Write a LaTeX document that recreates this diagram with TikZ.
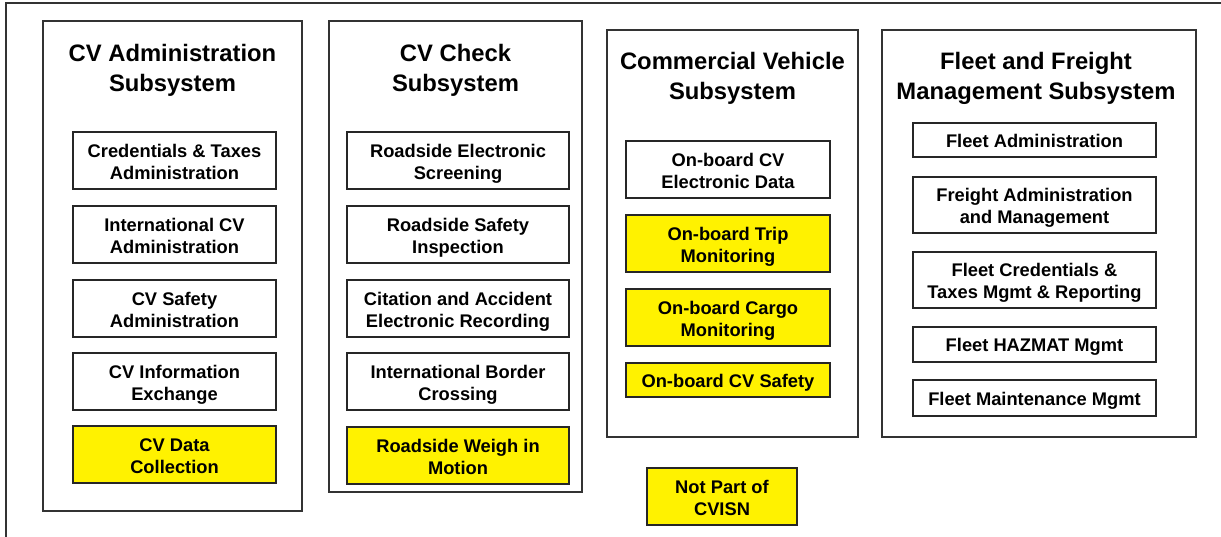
\documentclass[tikz,border=0pt]{standalone}
\usepackage{fontspec}
\setmainfont{Liberation Sans}
\begin{document}
\begin{tikzpicture}[x=1pt,y=-1pt,
  frameline/.style={line width=1.3pt,draw=black!80},
  subsys/.style={draw=black!80,line width=1.2pt,fill=white,inner sep=0pt,outer sep=0pt,anchor=north west},
  title/.style={align=center,font=\bfseries\fontsize{23.8}{30}\selectfont,inner sep=0pt},
  comp/.style={draw=black!85,line width=1.2pt,fill=white,inner sep=0pt,outer sep=0pt,align=center,
    font=\bfseries\fontsize{18.3}{22}\selectfont},
  yel/.style={comp,fill=yellow},
  twol/.style={text height=37.4pt,text depth=0pt},
  onel/.style={text height=15.5pt,text depth=0.5pt}]
\useasboundingbox (0,0) rectangle (1221,537);
\coordinate (fbl) at (6,540);
\coordinate (ftl) at (6,3);
\coordinate (ftr) at (1224,3);
\draw[frameline] (fbl) -- (ftl) -- (ftr);

% CV Administration Subsystem
\node[subsys,minimum width=259pt,minimum height=490pt] (s1) at (43,21) {};
\node[title] (t1) at (172.5,70) {CV Administration\\Subsystem};
\node[comp,twol,minimum width=203pt,minimum height=57pt] (a1) at (174.5,160.5) {Credentials \& Taxes\\Administration};
\node[comp,twol,minimum width=203pt,minimum height=57pt] (a2) at (174.5,234.5) {International CV\\Administration};
\node[comp,twol,minimum width=203pt,minimum height=57pt] (a3) at (174.5,308.5) {CV Safety\\Administration};
\node[comp,twol,minimum width=203pt,minimum height=57pt] (a4) at (174.5,381.5) {CV Information\\Exchange};
\node[yel,twol,minimum width=203pt,minimum height=57pt] (a5) at (174.5,454.5) {CV Data\\Collection};

% CV Check Subsystem
\node[subsys,minimum width=253pt,minimum height=471pt] (s2) at (329,21) {};
\node[title] (t2) at (455.5,70) {CV Check\\Subsystem};
\node[comp,twol,minimum width=222pt,minimum height=57pt] (b1) at (458,160.5) {Roadside Electronic\\Screening};
\node[comp,twol,minimum width=222pt,minimum height=57pt] (b2) at (458,234.5) {Roadside Safety\\Inspection};
\node[comp,twol,minimum width=222pt,minimum height=57pt] (b3) at (458,308.5) {Citation and Accident\\Electronic Recording};
\node[comp,twol,minimum width=222pt,minimum height=57pt] (b4) at (458,381.5) {International Border\\Crossing};
\node[yel,twol,minimum width=222pt,minimum height=57pt] (b5) at (458,455.5) {Roadside Weigh in\\Motion};

% Commercial Vehicle Subsystem
\node[subsys,minimum width=251pt,minimum height=407pt] (s3) at (607,30) {};
\node[title] (t3) at (732.5,78.5) {Commercial Vehicle\\Subsystem};
\node[comp,twol,minimum width=204pt,minimum height=57pt] (c1) at (728,169.5) {On-board CV\\Electronic Data};
\node[yel,twol,minimum width=204pt,minimum height=57pt] (c2) at (728,243.5) {On-board Trip\\Monitoring};
\node[yel,twol,minimum width=204pt,minimum height=57pt] (c3) at (728,317.5) {On-board Cargo\\Monitoring};
\node[yel,onel,minimum width=204pt,minimum height=34pt] (c4) at (728,380) {On-board CV Safety};

% Fleet and Freight Management Subsystem
\node[subsys,minimum width=314pt,minimum height=407pt] (s4) at (882,30) {};
\node[title] (t4) at (1036,78.5) {Fleet and Freight\\Management Subsystem};
\node[comp,onel,minimum width=243pt,minimum height=34pt] (d1) at (1034.5,140) {Fleet Administration};
\node[comp,twol,minimum width=243pt,minimum height=56pt] (d2) at (1034.5,205) {Freight Administration\\and Management};
\node[comp,twol,minimum width=243pt,minimum height=56pt] (d3) at (1034.5,280) {Fleet Credentials \&\\Taxes Mgmt \& Reporting};
\node[comp,onel,minimum width=243pt,minimum height=35pt] (d4) at (1034.5,344.5) {Fleet HAZMAT Mgmt};
\node[comp,onel,minimum width=243pt,minimum height=36pt] (d5) at (1034.5,398) {Fleet Maintenance Mgmt};

% Legend
\node[yel,twol,minimum width=150pt,minimum height=57pt] (leg) at (722,496.5) {Not Part of\\CVISN};
\end{tikzpicture}
\end{document}
